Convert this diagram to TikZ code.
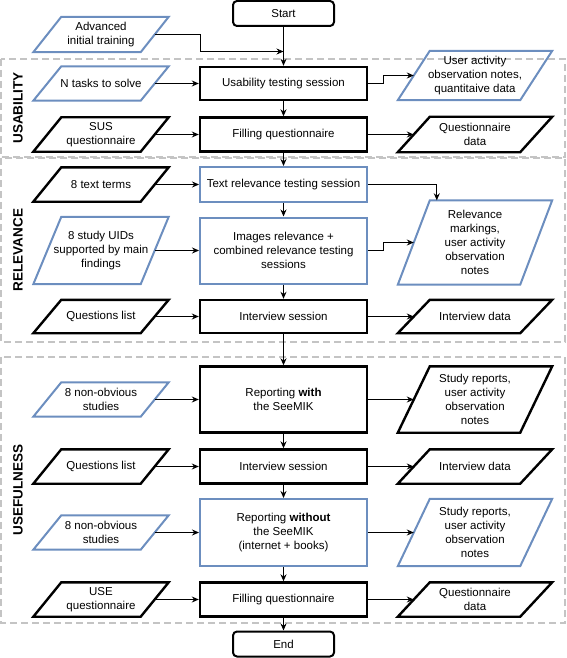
\documentclass[tikz,border=0pt]{standalone}
\usepackage{fontspec}
\setmainfont{Liberation Sans}
\usetikzlibrary{arrows.meta}
\definecolor{stepblue}{HTML}{6C8EBF}
\definecolor{zonegray}{HTML}{C4C4C4}

\begin{document}
\begin{tikzpicture}[x=1pt, y=-1pt, >={Stealth[length=7pt,width=6pt]},
        every node/.style={align=center, inner sep=1pt, font=\fontsize{11.5}{14}\selectfont},
        proc/.style={draw, line width=2.4pt, minimum width=167pt},
        procblue/.style={proc, draw=stepblue, line width=2pt},
        term/.style={draw, line width=2pt, rounded corners=4pt, minimum width=101pt, minimum height=25pt},
        inleft/.style={minimum width=107pt},
        outright/.style={minimum width=122pt},
        ioblack/.style={draw, line width=2.4pt},
        ioblue/.style={draw=stepblue, line width=2pt},
        zone/.style={draw=zonegray, line width=2pt, dash pattern=on 7pt off 4pt},
        zonelabel/.style={rotate=90, font=\fontsize{13.5}{16}\selectfont\bfseries},
        flow/.style={->, line width=1pt}]
            \useasboundingbox (0,0) rectangle (567,658);
            % Zones
            \draw[zone] (1,59) rectangle (565,157);
            \draw[zone] (1,158) rectangle (565,342);
            \draw[zone] (1,357) rectangle (565,623);
            \node[zonelabel] (usablabel) at (18,108) {USABILITY};
            \node[zonelabel] (rellabel) at (18,250) {RELEVANCE};
            \node[zonelabel] (uselabel) at (18,490) {USEFULNESS};
            % Nodes
            \node[term] (start) at (283.5,13.5) {Start};
            \node[proc, minimum height=33] (usab) at (283.5,83.5) {Usability testing session};
            \node[proc, minimum height=34] (fill1) at (283.5,134.5) {Filling questionnaire};
            \node[procblue, minimum height=35] (textrel) at (283.5,184.5) {Text relevance testing session};
            \node[procblue, minimum height=66] (imgrel) at (283.5,250.5) {Images relevance +\\combined relevance testing\\sessions};
            \node[proc, minimum height=33] (intv1) at (283.5,316.5) {Interview session};
            \node[proc, minimum height=66] (repwith) at (283.5,399.5) {Reporting \textbf{with}\\the SeeMIK};
            \node[proc, minimum height=34] (intv2) at (283.5,466.5) {Interview session};
            \node[procblue, minimum height=67] (repwithout) at (283.5,532.5) {Reporting \textbf{without}\\the SeeMIK\\(internet + books)};
            \node[proc, minimum height=34] (fill2) at (283.5,599.5) {Filling questionnaire};
            \node[term] (end) at (283.5,644) {End};
            % Inputs
            \node[inleft, minimum height=35] (training) at (101,34.5) {Advanced\\initial training};
            \node[inleft, minimum height=34] (tasks) at (101,83.5) {N tasks to solve};
            \node[inleft, minimum height=34] (sus) at (101,134.5) {SUS\\questionnaire};
            \node[inleft, minimum height=34] (terms) at (101,184.5) {8 text terms};
            \node[inleft, minimum height=67] (uids) at (101,250.5) {8 study UIDs\\supported by main\\findings};
            \node[inleft, minimum height=33] (quest1) at (101,316.5) {Questions list};
            \node[inleft, minimum height=34] (studies1) at (101,399.5) {8 non-obvious\\studies};
            \node[inleft, minimum height=34] (quest2) at (101,466.5) {Questions list};
            \node[inleft, minimum height=34] (studies2) at (101,532.5) {8 non-obvious\\studies};
            \node[inleft, minimum height=34] (usequest) at (101,599.5) {USE\\questionnaire};
            % Outputs
            \node[outright, minimum height=49] (obsnotes) at (475,75.5) {User activity\\observation notes,\\quantitaive data};
            \node[outright, minimum height=35] (qdata1) at (475,134.5) {Questionnaire\\data};
            \node[outright, minimum height=84] (relmark) at (475,242.5) {Relevance\\markings,\\user activity\\observation\\notes};
            \node[outright, minimum height=33] (idata1) at (475,316.5) {Interview data};
            \node[outright, minimum height=66] (reports1) at (475,399.5) {Study reports,\\user activity\\observation\\notes};
            \node[outright, minimum height=34] (idata2) at (475,466.5) {Interview data};
            \node[outright, minimum height=67] (reports2) at (475,532.5) {Study reports,\\user activity\\observation\\notes};
            \node[outright, minimum height=34] (qdata2) at (475,599.5) {Questionnaire\\data};
            % Parallelograms
            \foreach \n/\s/\c in {training/14/ioblue, tasks/14/ioblue, sus/14/ioblack, terms/14/ioblack,
                    uids/14/ioblue, quest1/14/ioblack, studies1/14/ioblue, quest2/14/ioblack,
                    studies2/14/ioblue, usequest/14/ioblack, obsnotes/16/ioblue, qdata1/16/ioblack,
                    relmark/16/ioblue, idata1/16/ioblack, reports1/16/ioblack, idata2/16/ioblack,
                    reports2/16/ioblue, qdata2/16/ioblack}
                \draw[\c] ([xshift=\s]\n.north west) -- ([xshift=\s]\n.north east)
                    -- ([xshift=-\s]\n.south east) -- ([xshift=-\s]\n.south west) -- cycle;
            \coordinate (bend) at (200.5,51.5);
            \coordinate (join) at (283.5,51.5);
            % Edges
            \draw[flow] (start) -- (usab);
            \draw[flow] (training.east) -| (bend) -- (join);
            \draw[flow] (tasks.east) -- (tasks.east -| usab.west);
            \draw[flow] (usab.east) -- ++(15,0) |- (obsnotes.west);
            \draw[flow] (usab) -- (fill1);
            \draw[flow] (sus.east) -- (sus.east -| fill1.west);
            \draw[flow] (fill1.east) -- (fill1.east -| qdata1.west);
            \draw[flow] (fill1) -- (textrel);
            \draw[flow] (terms.east) -- (terms.east -| textrel.west);
            \draw[flow] (textrel.east) -| ([xshift=23]relmark.north west);
            \draw[flow] (textrel) -- (imgrel);
            \draw[flow] (uids.east) -- (uids.east -| imgrel.west);
            \draw[flow] (imgrel.east) -- ++(15,0) |- (relmark.west);
            \draw[flow] (imgrel) -- (intv1);
            \draw[flow] (quest1.east) -- (quest1.east -| intv1.west);
            \draw[flow] (intv1.east) -- (intv1.east -| idata1.west);
            \draw[flow] (intv1) -- (repwith);
            \draw[flow] (studies1.east) -- (studies1.east -| repwith.west);
            \draw[flow] (repwith.east) -- (repwith.east -| reports1.west);
            \draw[flow] (repwith) -- (intv2);
            \draw[flow] (quest2.east) -- (quest2.east -| intv2.west);
            \draw[flow] (intv2.east) -- (intv2.east -| idata2.west);
            \draw[flow] (intv2) -- (repwithout);
            \draw[flow] (studies2.east) -- (studies2.east -| repwithout.west);
            \draw[flow] (repwithout.east) -- (repwithout.east -| reports2.west);
            \draw[flow] (repwithout) -- (fill2);
            \draw[flow] (usequest.east) -- (usequest.east -| fill2.west);
            \draw[flow] (fill2.east) -- (fill2.east -| qdata2.west);
            \draw[flow] (fill2) -- (end);
        \end{tikzpicture}
\end{document}
